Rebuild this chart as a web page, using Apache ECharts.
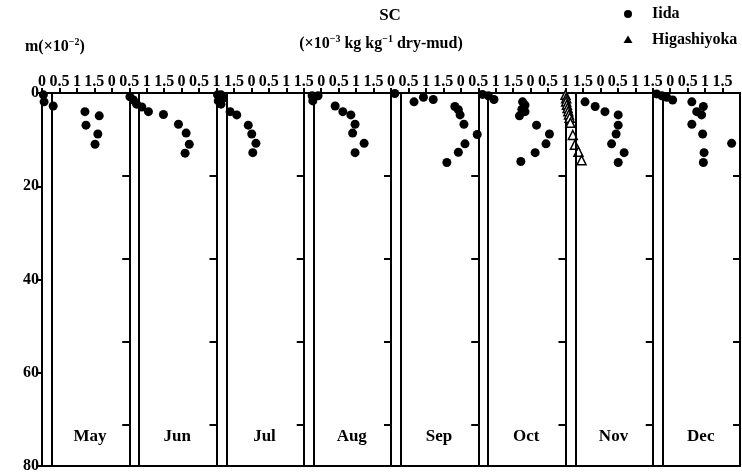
<!DOCTYPE html>
<html><head><meta charset="utf-8">
<script src="https://cdn.jsdelivr.net/npm/echarts@6/dist/echarts.min.js"></script>
<style>html,body{margin:0;padding:0;background:#fff}#c{width:742px;height:474px}</style>
</head><body><div id="c"></div>
<script>
const months = ['May','Jun','Jul','Aug','Sep','Oct','Nov','Dec'];
const topTickLabels = ['0','0.5','1','1.5'];
const depthMin = 0, depthMax = 80, depthStep = 20;

// Iida: [SC (x10^-3 kg/kg dry-mud), depth (m x10^-2)]
const iidaMay = [[0.04,0.4],[0.06,1.9],[0.32,2.8],[1.23,4.0],[1.64,4.9],[1.26,6.9],[1.60,8.8],[1.52,11.0]];
const iidaJun = [[0.02,0.8],[0.12,1.5],[0.21,2.4],[0.36,3.0],[0.55,4.0],[0.98,4.6],[1.41,6.7],[1.63,8.6],[1.72,11.0],[1.60,12.9]];
const iidaJul = [[0.03,0.4],[0.13,0.4],[0.20,1.1],[0.05,1.7],[0.13,2.4],[0.39,4.0],[0.58,4.7],[0.91,6.9],[1.01,8.8],[1.13,10.8],[1.04,12.8]];
const iidaAug = [[0.24,0.6],[0.41,0.6],[0.26,1.7],[0.90,2.8],[1.12,4.0],[1.35,4.7],[1.47,6.7],[1.40,8.6],[1.73,10.8],[1.47,12.8]];
const iidaSep = [[0.11,0.1],[0.66,1.9],[0.93,0.9],[1.21,1.4],[1.83,2.9],[1.93,3.6],[1.98,4.7],[2.09,6.7],[2.47,8.9],[2.12,10.9],[1.93,12.7],[1.60,14.9]];
const iidaOct = [[0.12,0.3],[0.29,0.6],[0.45,1.4],[1.27,1.9],[1.34,2.6],[1.25,3.5],[1.34,4.0],[1.18,4.9],[1.67,6.9],[2.04,8.8],[1.94,10.9],[1.63,12.8],[1.22,14.7]];
const iidaNov = [[0.56,1.9],[0.85,2.9],[1.13,4.0],[1.51,4.7],[1.51,6.9],[1.45,8.8],[1.32,10.9],[1.68,12.8],[1.51,14.9]];
const iidaDec = [[0.11,0.2],[0.26,0.6],[0.40,0.9],[0.57,1.5],[1.12,1.9],[1.45,2.9],[1.26,4.0],[1.40,4.7],[1.12,6.7],[1.43,8.8],[2.26,10.8],[1.47,12.8],[1.45,14.9]];
// Higashiyoka (November only)
const higashiyokaNov = [[0.00,0.4],[0.02,1.1],[0.02,1.8],[0.04,2.5],[0.06,3.2],[0.08,3.9],[0.10,4.6],[0.12,5.3],[0.14,6.4],[0.21,9.0],[0.27,11.1],[0.37,12.6],[0.46,14.4]];
const iidaByMonth = [iidaMay, iidaJun, iidaJul, iidaAug, iidaSep, iidaOct, iidaNov, iidaDec];

const FONT = '"Liberation Serif","Times New Roman",serif';
const L0 = 42, PW = 87.25, TOP = 93, H = 373;
const black = '#000';
const lineS = {color: black, width: 2};

const grid = [{left: L0, top: TOP, width: PW * 8, height: H}];
const xAxis = [
  {gridIndex: 0, type: 'value', position: 'top', min: 0, max: 20, interval: 0.5,
   axisLine: {onZero: false, lineStyle: lineS},
   axisTick: {length: 5, lineStyle: {color: black, width: 2}},
   axisLabel: {color: black, fontFamily: FONT, fontWeight: 'bold', fontSize: 16, margin: 3,
     showMaxLabel: false, formatter: v => topTickLabels[Math.round(v / 0.5) % 4]},
   splitLine: {show: false}},
  {gridIndex: 0, type: 'value', position: 'bottom', min: 0, max: 1,
   axisLine: {onZero: false, lineStyle: lineS}, axisTick: {show: false},
   axisLabel: {show: false}, splitLine: {show: false}}
];
const yAxis = [
  {gridIndex: 0, type: 'value', position: 'left', inverse: true, min: depthMin, max: depthMax, interval: depthStep,
   axisLine: {onZero: false, lineStyle: lineS},
   axisTick: {length: 6, lineStyle: {color: black, width: 2}},
   axisLabel: {color: black, fontFamily: FONT, fontWeight: 'bold', fontSize: 16, margin: 3},
   splitLine: {show: false}}
];
const series = [{type: 'scatter', xAxisIndex: 0, yAxisIndex: 0, data: [], silent: true}];
const graphic = [];

months.forEach((m, i) => {
  const left = L0 + PW * i;
  grid.push({left: left, top: TOP, width: PW, height: H});
  const xi = xAxis.length, yi = yAxis.length;
  xAxis.push({gridIndex: i + 1, type: 'value', min: 0, max: 2.5, show: false});
  yAxis.push({gridIndex: i + 1, type: 'value', position: 'right', inverse: true, min: 0, max: 80, interval: 17.8,
    axisLine: {show: true, onZero: false, lineStyle: lineS},
    axisTick: {show: true, inside: true, length: 7, lineStyle: {color: black, width: 2}},
    axisLabel: {show: false}, splitLine: {show: false}});
  series.push({
    name: 'Iida', type: 'scatter', xAxisIndex: xi, yAxisIndex: yi, clip: false,
    symbol: 'circle', symbolSize: 9, itemStyle: {color: black, opacity: 1},
    data: iidaByMonth[i],
    markLine: {silent: true, symbol: ['none', 'none'], label: {show: false},
      lineStyle: {color: black, width: 2, type: 'solid', opacity: 1}, emphasis: {disabled: true},
      data: [{xAxis: 0.275}]}
  });
  if (m === 'Nov') {
    series.push({
      name: 'Higashiyoka', type: 'scatter', xAxisIndex: xi, yAxisIndex: yi, clip: false,
      symbol: 'triangle', symbolSize: 9, itemStyle: {color: '#fff', borderColor: black, borderWidth: 1.5, opacity: 1},
      data: higashiyokaNov
    });
  }
  graphic.push({type: 'text', x: left + 48, y: 437, style: {text: m,
    fill: black, font: 'bold 17px ' + FONT, align: 'center', verticalAlign: 'middle'}});
});

graphic.push(
  {type: 'text', x: 390, y: 16, style: {text: 'SC', fill: black, font: 'bold 17px ' + FONT, align: 'center', verticalAlign: 'middle'}},
  {type: 'text', x: 381, y: 44, style: {
    text: '(×10{s|−3} kg kg{s|−1} dry-mud)', fill: black, font: 'bold 16px ' + FONT, align: 'center', verticalAlign: 'middle',
    rich: {s: {font: 'bold 10px ' + FONT, fill: black, padding: [0, 0, 9, 0]}}}},
  {type: 'text', x: 25, y: 47, style: {
    text: 'm(×10{s|−2})', fill: black, font: 'bold 16px ' + FONT, align: 'left', verticalAlign: 'middle',
    rich: {s: {font: 'bold 10px ' + FONT, fill: black, padding: [0, 0, 9, 0]}}}},
  {type: 'circle', shape: {cx: 628, cy: 14, r: 4}, style: {fill: black}},
  {type: 'text', x: 652, y: 14, style: {text: 'Iida', fill: black, font: 'bold 16px ' + FONT, align: 'left', verticalAlign: 'middle'}},
  {type: 'polygon', shape: {points: [[628, 35.5], [623.5, 43], [632.5, 43]]}, style: {fill: black}},
  {type: 'text', x: 652, y: 40, style: {text: 'Higashiyoka', fill: black, font: 'bold 16px ' + FONT, align: 'left', verticalAlign: 'middle'}}
);

const chart = echarts.init(document.getElementById('c'), null, {renderer: 'canvas'});
chart.setOption({animation: false, backgroundColor: '#fff', grid, xAxis, yAxis, series, graphic});
</script></body></html>
